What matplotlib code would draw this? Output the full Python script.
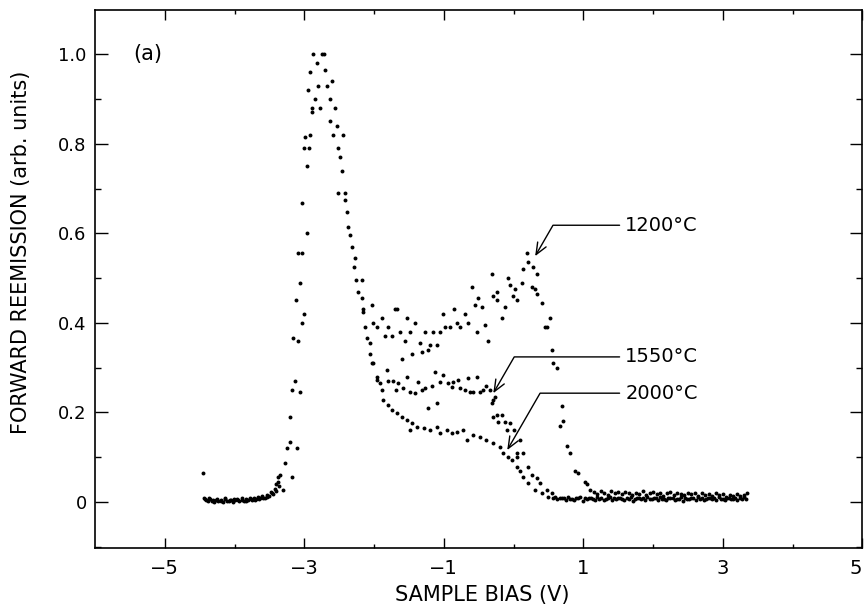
import matplotlib.pyplot as plt
from matplotlib.ticker import MultipleLocator, FixedLocator

# shared part: left baseline, onset and the main peak (all three anneals overlap here)
bias_common = [-4.45, -4.44, -4.43, -4.41, -4.38, -4.37, -4.35, -4.32, -4.31, -4.29, -4.26, -4.25,
               -4.23, -4.20, -4.19, -4.17, -4.14, -4.13, -4.11, -4.08, -4.07, -4.05, -4.02, -4.01,
               -3.99, -3.96, -3.95, -3.93, -3.90, -3.89, -3.87, -3.84, -3.83, -3.81, -3.78, -3.77,
               -3.75, -3.72, -3.71, -3.69, -3.66, -3.65, -3.63, -3.60, -3.59, -3.57, -3.54, -3.53,
               -3.51, -3.48, -3.47, -3.45, -3.42, -3.41, -3.40, -3.38, -3.37, -3.36, -3.35,
               -3.31, -3.28, -3.25, -3.21, -3.21, -3.18, -3.18, -3.16, -3.14, -3.12, -3.11, -3.09,
               -3.09, -3.06, -3.06, -3.03, -3.03, -3.03, -3.01, -3.01, -2.99, -2.96, -2.96, -2.95,
               -2.93, -2.92, -2.92, -2.89, -2.89, -2.87, -2.85, -2.82, -2.80, -2.78, -2.75, -2.72,
               -2.70, -2.68, -2.63, -2.63, -2.60, -2.59, -2.56, -2.53, -2.52, -2.52, -2.49, -2.46,
               -2.44, -2.42, -2.42, -2.39, -2.37, -2.35, -2.32, -2.29, -2.28, -2.26, -2.23, -2.17,
               -2.17, -2.16, -2.13, -2.10, -2.06, -2.06, -2.03]
refl_common = [0.065, 0.010, 0.006, 0.004, 0.002, 0.008, 0.006, 0.003, 0.005, 0.001, 0.005, 0.007,
               0.002, 0.004, 0.003, 0.000, 0.006, 0.008, 0.003, 0.002, 0.004, 0.005, 0.001, 0.007,
               0.004, 0.007, 0.005, 0.003, 0.005, 0.008, 0.002, 0.006, 0.003, 0.004, 0.008, 0.006,
               0.005, 0.009, 0.004, 0.006, 0.011, 0.007, 0.008, 0.013, 0.009, 0.010, 0.016, 0.012,
               0.014, 0.022, 0.020, 0.018, 0.030, 0.040, 0.024, 0.045, 0.055, 0.035, 0.060,
               0.027, 0.087, 0.120, 0.134, 0.190, 0.056, 0.250, 0.366, 0.270, 0.450, 0.120, 0.360,
               0.555, 0.245, 0.490, 0.400, 0.555, 0.667, 0.420, 0.790, 0.815, 0.600, 0.750, 0.920,
               0.790, 0.820, 0.960, 0.880, 0.870, 1.000, 0.900, 0.980, 0.930, 0.880, 1.000, 1.000,
               0.965, 0.930, 0.900, 0.850, 0.940, 0.820, 0.880, 0.840, 0.790, 0.690, 0.770, 0.740,
               0.820, 0.690, 0.674, 0.647, 0.614, 0.596, 0.570, 0.525, 0.545, 0.495, 0.470, 0.495,
               0.455, 0.425, 0.390, 0.366, 0.355, 0.330, 0.310]

bias_1200 = [-2.16, -2.03, -2.01, -1.96, -1.89, -1.84, -1.80, -1.74, -1.70, -1.67, -1.63, -1.60,
             -1.56, -1.53, -1.48, -1.45, -1.41, -1.34, -1.31, -1.27, -1.22, -1.20, -1.15, -1.10,
             -1.05, -1.01, -0.98, -0.91, -0.86, -0.81, -0.77, -0.69, -0.65, -0.59, -0.55, -0.53,
             -0.51, -0.45, -0.41, -0.36, -0.31, -0.29, -0.24, -0.23, -0.17, -0.12, -0.08, -0.05,
             -0.01, 0.02, 0.05, 0.12, 0.14, 0.19, 0.21, 0.26, 0.28, 0.31, 0.34, 0.34, 0.41, 0.45,
             0.48, 0.52, 0.55, 0.57, 0.62, 0.67, 0.70, 0.71, 0.77, 0.81, 0.88, 0.93, 1.02, 1.05,
             1.10, 1.15, 1.20, 1.25, 1.30, 1.35, 1.40, 1.45, 1.50, 1.55, 1.60, 1.65, 1.70, 1.75,
             1.80, 1.85, 1.90, 1.95, 2.00, 2.05, 2.10, 2.15, 2.20, 2.25, 2.30, 2.35, 2.40, 2.45,
             2.50, 2.55, 2.60, 2.65, 2.70, 2.75, 2.80, 2.85, 2.90, 2.95, 3.00, 3.05, 3.10, 3.15,
             3.20, 3.25, 3.30, 3.35]
refl_1200 = [0.430, 0.440, 0.400, 0.390, 0.410, 0.370, 0.390, 0.370, 0.430, 0.430, 0.380, 0.320,
             0.360, 0.410, 0.380, 0.330, 0.400, 0.355, 0.335, 0.380, 0.340, 0.350, 0.380, 0.350,
             0.380, 0.420, 0.390, 0.390, 0.430, 0.400, 0.390, 0.420, 0.400, 0.480, 0.440, 0.380,
             0.455, 0.435, 0.395, 0.360, 0.510, 0.460, 0.450, 0.470, 0.410, 0.435, 0.500, 0.485,
             0.460, 0.475, 0.450, 0.490, 0.520, 0.555, 0.535, 0.480, 0.525, 0.475, 0.510, 0.465,
             0.445, 0.390, 0.390, 0.410, 0.340, 0.310, 0.300, 0.170, 0.215, 0.180, 0.125, 0.110,
             0.070, 0.065, 0.045, 0.040, 0.027, 0.022, 0.018, 0.025, 0.020, 0.016, 0.024, 0.019,
             0.022, 0.017, 0.023, 0.020, 0.015, 0.021, 0.018, 0.024, 0.016, 0.020, 0.022, 0.017,
             0.021, 0.014, 0.019, 0.022, 0.016, 0.020, 0.018, 0.015, 0.021, 0.017, 0.019, 0.014,
             0.020, 0.016, 0.018, 0.013, 0.019, 0.015, 0.017, 0.012, 0.016, 0.014, 0.018, 0.013,
             0.016, 0.020]

bias_1550 = [-2.01, -1.96, -1.91, -1.82, -1.80, -1.73, -1.68, -1.66, -1.58, -1.53, -1.48, -1.41,
             -1.37, -1.31, -1.27, -1.22, -1.17, -1.13, -1.10, -1.05, -1.01, -0.94, -0.88, -0.87,
             -0.80, -0.77, -0.70, -0.65, -0.62, -0.58, -0.53, -0.48, -0.44, -0.39, -0.34, -0.31,
             -0.30, -0.27, -0.30, -0.24, -0.22, -0.17, -0.12, -0.10, -0.05, 0.00, 0.05, 0.09,
             0.14, 0.21, 0.26, 0.34, 0.38, 0.48, 0.55, 0.60, 0.66, 0.72, 0.78, 0.84, 0.90, 0.96,
             1.02, 1.08, 1.14, 1.20, 1.26, 1.32, 1.38, 1.44, 1.50, 1.56, 1.62, 1.68, 1.74, 1.80,
             1.86, 1.92, 1.98, 2.04, 2.10, 2.16, 2.22, 2.28, 2.34, 2.40, 2.46, 2.52, 2.58, 2.64,
             2.70, 2.76, 2.82, 2.88, 2.94, 3.00, 3.06, 3.12, 3.18, 3.24, 3.30]
refl_1550 = [0.310, 0.280, 0.265, 0.295, 0.270, 0.270, 0.250, 0.265, 0.255, 0.280, 0.245, 0.243,
             0.268, 0.250, 0.255, 0.210, 0.260, 0.290, 0.220, 0.268, 0.283, 0.265, 0.257, 0.268,
             0.272, 0.255, 0.250, 0.277, 0.245, 0.245, 0.280, 0.245, 0.250, 0.260, 0.250, 0.220,
             0.228, 0.235, 0.190, 0.194, 0.178, 0.194, 0.178, 0.160, 0.176, 0.160, 0.110, 0.138,
             0.110, 0.078, 0.060, 0.053, 0.042, 0.027, 0.020, 0.012, 0.010, 0.008, 0.011, 0.007,
             0.009, 0.012, 0.008, 0.010, 0.006, 0.011, 0.009, 0.007, 0.012, 0.008, 0.010, 0.006,
             0.009, 0.011, 0.007, 0.010, 0.008, 0.012, 0.006, 0.009, 0.011, 0.007, 0.010, 0.008,
             0.006, 0.011, 0.009, 0.007, 0.010, 0.012, 0.008, 0.006, 0.010, 0.009, 0.011, 0.007,
             0.009, 0.006, 0.010, 0.008, 0.011]

bias_2000 = [-1.96, -1.89, -1.87, -1.80, -1.74, -1.67, -1.60, -1.53, -1.48, -1.46, -1.39, -1.29,
             -1.20, -1.10, -1.05, -0.96, -0.88, -0.81, -0.72, -0.67, -0.58, -0.48, -0.39, -0.29,
             -0.19, -0.15, -0.08, -0.02, 0.05, 0.05, 0.09, 0.14, 0.21, 0.31, 0.41, 0.50, 0.57,
             0.63, 0.69, 0.75, 0.81, 0.87, 0.93, 0.99, 1.05, 1.11, 1.17, 1.23, 1.29, 1.35, 1.41,
             1.47, 1.53, 1.59, 1.65, 1.71, 1.77, 1.83, 1.89, 1.95, 2.01, 2.07, 2.13, 2.19, 2.25,
             2.31, 2.37, 2.43, 2.49, 2.55, 2.61, 2.67, 2.73, 2.79, 2.85, 2.91, 2.97, 3.03, 3.09,
             3.15, 3.21, 3.27, 3.33]
refl_2000 = [0.272, 0.250, 0.228, 0.216, 0.205, 0.198, 0.190, 0.183, 0.160, 0.176, 0.168, 0.165,
             0.160, 0.168, 0.154, 0.160, 0.154, 0.156, 0.160, 0.138, 0.150, 0.145, 0.138, 0.132,
             0.123, 0.110, 0.100, 0.094, 0.100, 0.078, 0.070, 0.056, 0.042, 0.027, 0.020, 0.011,
             0.009, 0.006, 0.008, 0.004, 0.007, 0.005, 0.008, 0.003, 0.006, 0.009, 0.004, 0.007,
             0.005, 0.008, 0.004, 0.006, 0.009, 0.005, 0.007, 0.003, 0.008, 0.006, 0.004, 0.007,
             0.009, 0.005, 0.006, 0.004, 0.008, 0.005, 0.007, 0.003, 0.006, 0.008, 0.004, 0.007,
             0.005, 0.009, 0.006, 0.004, 0.007, 0.005, 0.008, 0.006, 0.004, 0.007, 0.006]

# label text, (label x, label y), arrow tip (x, y)
labels = ['1200°C', '1550°C', '2000°C']
label_pos = [(1.60, 0.618), (1.60, 0.324), (1.60, 0.243)]
arrow_tip = [(0.31, 0.549), (-0.29, 0.243), (-0.09, 0.116)]

plt.rcParams['font.family'] = ['DejaVu Sans']

fig = plt.figure(figsize=(8.64, 6.05), dpi=100)
ax = fig.add_axes([0.110, 0.094, 0.888, 0.889])

for bx, ry in [(bias_common, refl_common), (bias_1200, refl_1200),
               (bias_1550, refl_1550), (bias_2000, refl_2000)]:
    ax.scatter(bx, ry, s=8, c='black', marker='o', linewidths=0)

for txt, (tx, ty), (px, py) in zip(labels, label_pos, arrow_tip):
    ax.annotate(txt, xy=(px, py), xytext=(tx, ty), ha='left', va='center', fontsize=14,
                arrowprops=dict(arrowstyle='->,head_length=0.6,head_width=0.25', color='black',
                                lw=1.0, shrinkA=2, shrinkB=0,
                                connectionstyle='angle,angleA=0,angleB=60,rad=0'))

ax.text(-5.45, 1.0, '(a)', fontsize=15, ha='left', va='center')

ax.set_xlim(-6, 5)
ax.set_ylim(-0.103, 1.098)
ax.xaxis.set_major_locator(FixedLocator([-5, -3, -1, 1, 3, 5]))
ax.xaxis.set_minor_locator(FixedLocator([-4, -2, 0, 2, 4]))
ax.yaxis.set_major_locator(FixedLocator([0, 0.2, 0.4, 0.6, 0.8, 1.0]))
ax.yaxis.set_minor_locator(MultipleLocator(0.1))
ax.set_yticklabels(['0', '0.2', '0.4', '0.6', '0.8', '1.0'])
ax.set_xticklabels(['\u22125', '\u22123', '\u22121', '1', '3', '5'])
ax.get_xticklabels()[-1].set_ha('right')

ax.tick_params(axis='both', which='both', direction='in', top=True, right=True, width=1.0)
ax.tick_params(axis='x', which='major', length=7, pad=8, labelsize=14)
ax.tick_params(axis='x', which='minor', length=3)
ax.tick_params(axis='y', which='major', length=9, pad=6, labelsize=13)
ax.tick_params(axis='y', which='minor', length=4)
for sp in ax.spines.values():
    sp.set_linewidth(1.2)

ax.set_xlabel('SAMPLE BIAS (V)', fontsize=15)
ax.set_ylabel('FORWARD REEMISSION (arb. units)', fontsize=15)
ax.xaxis.set_label_coords(0.505, -0.068)
ax.yaxis.set_label_coords(-0.084, 0.55)

fig.savefig('out.png', dpi=100)
